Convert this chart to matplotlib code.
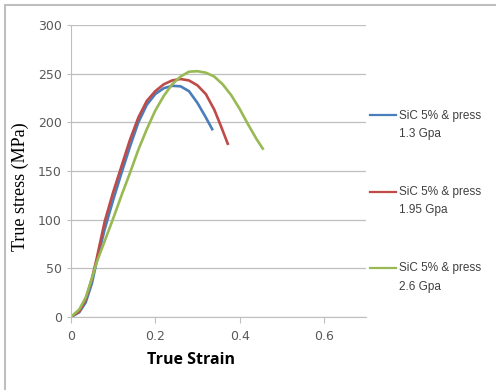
import matplotlib
matplotlib.use('Agg')
import matplotlib.pyplot as plt
from matplotlib.patches import Rectangle

# data
strain_13 = [0, 0.02, 0.035, 0.05, 0.06, 0.08, 0.10, 0.12, 0.14, 0.16, 0.18, 0.20,
             0.22, 0.24, 0.26, 0.28, 0.30, 0.32, 0.335]
stress_13 = [0, 5, 15, 35, 55, 90, 120, 148, 175, 200, 218, 229,
             235, 237.5, 237, 232, 220, 205, 193]

strain_195 = [0, 0.02, 0.035, 0.05, 0.06, 0.08, 0.10, 0.12, 0.14, 0.16, 0.18, 0.20,
              0.22, 0.24, 0.26, 0.28, 0.30, 0.32, 0.34, 0.355, 0.372]
stress_195 = [0, 6, 18, 40, 58, 98, 128, 155, 182, 205, 222, 232,
              239, 243, 244.5, 243, 238, 229, 213, 197, 178]

strain_26 = [0, 0.02, 0.035, 0.05, 0.06, 0.08, 0.10, 0.12, 0.14, 0.16, 0.18, 0.20,
             0.22, 0.24, 0.26, 0.28, 0.30, 0.32, 0.34, 0.36, 0.38, 0.40, 0.42, 0.44, 0.455]
stress_26 = [0, 8, 20, 40, 55, 78, 101, 125, 148, 172, 193, 212,
             227, 239, 247, 252, 252.5, 251, 247, 239, 228, 214, 198, 183, 173]

labels = ['SiC 5% & press\n1.3 Gpa', 'SiC 5% & press\n1.95 Gpa', 'SiC 5% & press\n2.6 Gpa']
colors = ['#4A7EBB', '#BE4B48', '#98B954']

fig = plt.figure(figsize=(4.96, 3.90), dpi=100)
ax = fig.add_axes([0.143, 0.187, 0.595, 0.749])

# light frame round the chart (cut off at right and bottom in the original)
fig.patches.append(Rectangle((0.01, -0.05), 1.1, 1.037, transform=fig.transFigure,
                             fill=False, ec='#BFBFBF', lw=1.5))

ax.plot(strain_13, stress_13, color=colors[0], lw=1.9, label=labels[0])
ax.plot(strain_195, stress_195, color=colors[1], lw=1.9, label=labels[1])
ax.plot(strain_26, stress_26, color=colors[2], lw=1.9, label=labels[2])

ax.set_xlim(0, 0.7)
ax.set_ylim(0, 300)
ax.set_xticks([0, 0.2, 0.4, 0.6])
ax.set_xticklabels(['0', '0.2', '0.4', '0.6'])
ax.set_yticks(range(0, 301, 50))
ax.yaxis.grid(True, color='#BFBFBF', lw=0.9)
ax.set_axisbelow(True)
for s in ['top', 'right']:
    ax.spines[s].set_visible(False)
for s in ['left', 'bottom']:
    ax.spines[s].set_color('#BFBFBF')
ax.tick_params(axis='both', colors='#BFBFBF', labelcolor='#595959', labelsize=9, length=4)
ax.tick_params(axis='y', length=3)
ax.tick_params(axis='x', pad=5)

ax.set_ylabel('True stress (MPa)', family='Liberation Serif', fontsize=13)
ax.yaxis.set_label_coords(-0.142, 0.445)
ax.set_xlabel('True Strain', family='Open Sans', fontweight='bold', fontsize=11.5)
ax.xaxis.set_label_coords(0.407, -0.12)

leg = ax.legend(loc='upper left', bbox_to_anchor=(1.0136, 0.71), frameon=False,
                prop={'family': 'Liberation Sans', 'size': 8.5},
                labelspacing=3.9, handlelength=2.2, handletextpad=0.25,
                borderaxespad=0, borderpad=0)
for t in leg.get_texts():
    t.set_color('#404040')
    t.set_linespacing(1.7)
for h in leg.legend_handles:
    h.set_linewidth(1.6)
    y = h.get_ydata()
    h.set_ydata([v + 7 for v in y])

plt.savefig('out.png', dpi=100)
